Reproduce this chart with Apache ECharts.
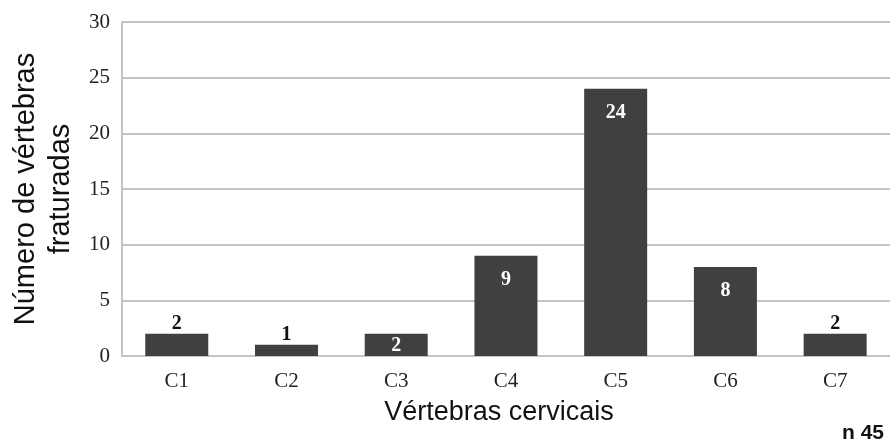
<!DOCTYPE html>
<html><head><meta charset="utf-8">
<script src="https://cdn.jsdelivr.net/npm/echarts@6/dist/echarts.min.js"></script>
<style>html,body{margin:0;padding:0;background:#fff}#c{width:890px;height:443px}</style>
</head><body><div id="c"></div>
<script>
const categories = ['C1','C2','C3','C4','C5','C6','C7'];
const values = [2,1,2,9,24,8,2];
const insideLabel = [false,false,true,true,true,true,false];
const yTicks = [0,5,10,15,20,25,30];

const chart = echarts.init(document.getElementById('c'));
const serif = '"Liberation Serif", "DejaVu Serif", serif';
const sans = '"Liberation Sans", Arial, sans-serif';
chart.setOption({
  animation: false,
  grid: {left: 121, top: 22, width: 778, bottom: 87, containLabel: false},
  xAxis: {
    type: 'category', data: categories,
    axisLine: {lineStyle: {color: '#c4c4c4', width: 2}},
    axisTick: {show: false},
    axisLabel: {color: '#222', fontFamily: serif, fontSize: 21, margin: 15},
    name: 'Vértebras cervicais', nameLocation: 'middle', nameGap: 43,
    nameTextStyle: {fontFamily: sans, fontSize: 27, color: '#111', padding: [0, 14, 0, 0]}
  },
  yAxis: {
    type: 'value', min: 0, max: 30, interval: 5,
    axisLine: {show: true, lineStyle: {color: '#c4c4c4', width: 2}},
    axisTick: {show: false},
    splitLine: {lineStyle: {color: '#c4c4c4', width: 2}},
    axisLabel: {color: '#222', fontFamily: serif, fontSize: 21, margin: 12,
      formatter: v => yTicks.includes(v) ? String(v) : ''},
    name: 'Número de vértebras\nfraturadas', nameLocation: 'middle', nameGap: 42,
    nameTextStyle: {fontFamily: sans, fontSize: 29, color: '#111', lineHeight: 35}
  },
  series: [{
    type: 'bar', barWidth: 63,
    itemStyle: {color: '#404040'},
    data: values.map((v, i) => ({
      value: v,
      label: insideLabel[i]
        ? {show: true, position: 'insideTop', distance: v < 5 ? 2 : 14, color: '#fff', fontFamily: serif, fontWeight: 'bold', fontSize: 20}
        : {show: true, position: 'top', distance: 0, color: '#111', fontFamily: serif, fontWeight: 'bold', fontSize: 20}
    }))
  }],
  graphic: [{
    type: 'text', right: 6, top: 423,
    style: {text: 'n 45', font: 'bold 21px ' + sans, fill: '#111'}
  }]
});
</script></body></html>
